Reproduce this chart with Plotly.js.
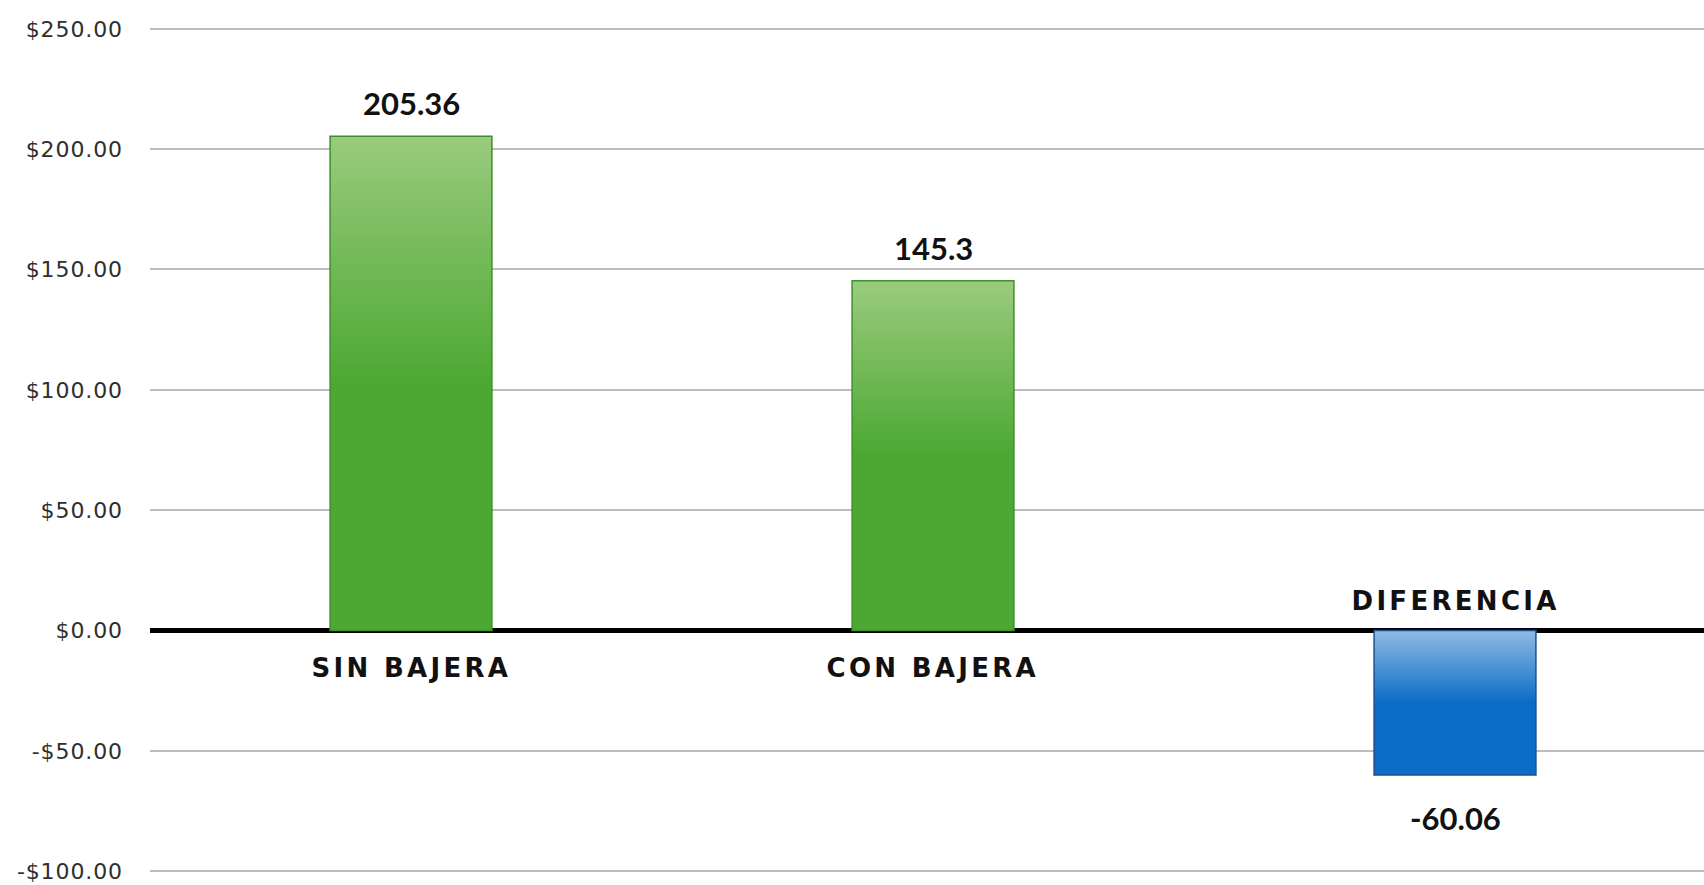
<!DOCTYPE html>
<html>
<head>
<meta charset="utf-8">
<script src="https://cdn.plot.ly/plotly-3.0.1.min.js"></script>
<style>
html,body{margin:0;padding:0;background:#fff;}
#chart{width:1704px;height:885px;}
</style>
</head>
<body>
<div id="chart"></div>
<script>
const categories = ["SIN BAJERA", "CON BAJERA", "DIFERENCIA"];
const values = [205.36, 145.3, -60.06];
const valueLabels = ["205.36", "145.3", "-60.06"];
const tickValues = [250, 200, 150, 100, 50, 0, -50, -100];
const tickLabels = ["$250.00", "$200.00", "$150.00", "$100.00", "$50.00", "$0.00", "-$50.00", "-$100.00"];
const barColors = ["#4ca832", "#4ca832", "#0a6cc4"];
const barLines = ["#3f8f2a", "#3f8f2a", "#1d4f8f"];

const annotations = [];
categories.forEach((c, i) => {
  const neg = values[i] < 0;
  annotations.push({
    x: c, y: 0, xref: 'x', yref: 'y', text: c, showarrow: false,
    yanchor: neg ? 'bottom' : 'top', yshift: neg ? 13 : -20,
    font: {family: 'DejaVu Sans', size: 26, color: '#111', weight: 'bold'}
  });
  annotations.push({
    x: c, y: values[i], xref: 'x', yref: 'y', text: valueLabels[i], showarrow: false,
    yanchor: neg ? 'top' : 'bottom', yshift: neg ? -22 : 12,
    font: {family: 'Lato', size: 31, color: '#111', weight: 'bold'}
  });
});

const trace = {
  type: 'bar', x: categories, y: values, width: 0.31,
  marker: {color: barColors, line: {color: barLines, width: 1.5}},
  hoverinfo: 'none'
};

const layout = {
  width: 1704, height: 885,
  margin: {l: 150, r: 0, t: 24, b: 9},
  paper_bgcolor: '#fff', plot_bgcolor: '#fff',
  showlegend: false,
  xaxis: {range: [-0.5, 2.477], showticklabels: false, showgrid: false, zeroline: false, showline: false, ticks: ''},
  yaxis: {
    range: [-102, 252], tickvals: tickValues, ticktext: tickLabels,
    showgrid: true, gridcolor: '#bcbcbc', gridwidth: 2,
    zeroline: true, zerolinecolor: '#000', zerolinewidth: 4.5,
    ticks: '', ticklabelstandoff: 26, ticklabeloverflow: 'allow',
    tickfont: {family: 'DejaVu Sans', size: 22, color: '#2e2e2e'}
  },
  annotations: annotations
};

Plotly.newPlot('chart', [trace], layout, {staticPlot: true}).then(gd => {
  const svg = gd.querySelector('svg.main-svg');
  const ns = 'http://www.w3.org/2000/svg';
  let defs = svg.querySelector('defs');
  if (!defs) { defs = document.createElementNS(ns, 'defs'); svg.insertBefore(defs, svg.firstChild); }
  const mk = (id, top, bottom) => {
    const g = document.createElementNS(ns, 'linearGradient');
    g.setAttribute('id', id); g.setAttribute('x1', '0'); g.setAttribute('y1', '0'); g.setAttribute('x2', '0'); g.setAttribute('y2', '1');
    [[0, top], [0.5, bottom], [1, bottom]].forEach(([o, c]) => {
      const s = document.createElementNS(ns, 'stop'); s.setAttribute('offset', o); s.setAttribute('stop-color', c); g.appendChild(s);
    });
    defs.appendChild(g);
  };
  mk('gGreen', '#9acb7e', '#4ca832');
  mk('gBlue', '#8fbbe6', '#0a6cc4');
  gd.querySelectorAll('.bars .point path').forEach((p, i) => {
    p.style.fill = values[i] < 0 ? 'url(#gBlue)' : 'url(#gGreen)';
  });
  gd.querySelectorAll('.annotation-text').forEach(t => {
    if (categories.includes(t.textContent)) t.style.letterSpacing = '3.3px';
  });
  gd.querySelectorAll('.ytick text').forEach(t => { t.style.letterSpacing = '0.9px'; });
});
</script>
</body>
</html>
